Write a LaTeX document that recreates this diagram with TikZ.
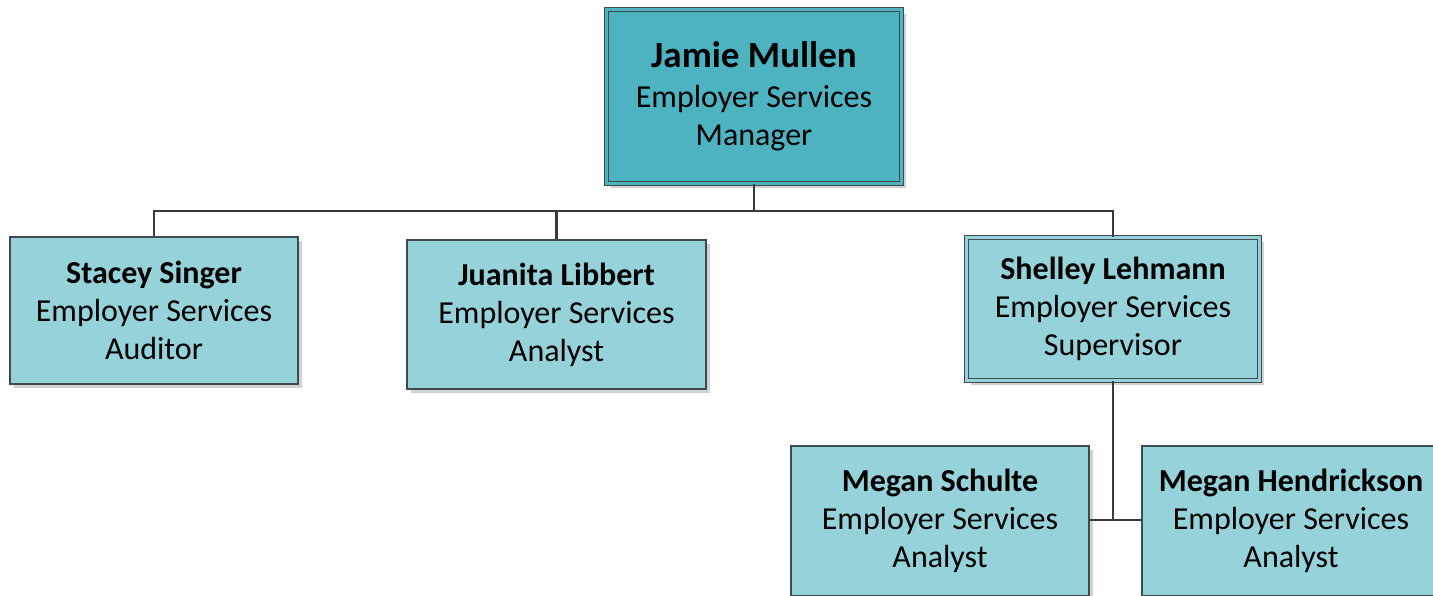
\documentclass[tikz,border=0pt]{standalone}
\usepackage{fontspec}
\setmainfont{Carlito}
\usetikzlibrary{shadows}
\definecolor{topfill}{HTML}{4EB3C1}
\definecolor{boxfill}{HTML}{96D2DA}
\definecolor{edgegray}{HTML}{3E4A50}
\definecolor{linegray}{HTML}{3A3A3A}
\begin{document}
\begin{tikzpicture}[x=1pt,y=-1pt,
  card/.style={draw=edgegray, line width=1.2pt, fill=boxfill, inner sep=0pt,
    minimum width=288pt, minimum height=147pt, align=center,
    font=\fontsize{32}{38}\selectfont,
    drop shadow={shadow xshift=4pt, shadow yshift=-4pt, fill=black!18, opacity=1}},
  dcard/.style={card, double=boxfill, double distance=2.6pt, line width=1pt},
  conn/.style={draw=linegray, line width=2.2pt}]
\useasboundingbox (0,0) rectangle (1433,595);
\node[dcard, double=topfill, fill=topfill, minimum width=295pt, minimum height=174pt] (jamie) at (754,96.5)
  {{\fontsize{37}{40}\selectfont\bfseries Jamie Mullen}\\[2pt]Employer Services\\Manager};
\node[card] (stacey) at (154,310.5)
  {{\bfseries Stacey Singer}\\Employer Services\\Auditor};
\node[card, minimum width=299pt, minimum height=149pt] (juanita) at (556.5,314.5)
  {{\bfseries Juanita Libbert}\\Employer Services\\Analyst};
\node[dcard, minimum width=293pt, minimum height=143pt] (shelley) at (1113,309)
  {{\bfseries Shelley Lehmann}\\Employer Services\\Supervisor};
\node[card, minimum width=298pt, minimum height=150pt] (schulte) at (940,521)
  {{\bfseries Megan Schulte}\\Employer Services\\Analyst};
\node[card, minimum width=298pt, minimum height=150pt] (hendr) at (1291,521)
  {{\bfseries Megan Hendrickson}\\Employer Services\\Analyst};
\coordinate (bus) at (754,211);
\coordinate (sub) at (1113,520);
\draw[conn] (jamie.south) -- (bus);
\draw[conn] (stacey.north) |- (bus) -| (shelley.north);
\draw[conn] (juanita.north) -- (juanita.north |- bus);
\draw[conn] (shelley.south) -- (sub);
\draw[conn] (schulte.east |- sub) -- (hendr.west |- sub);
\end{tikzpicture}
\end{document}
